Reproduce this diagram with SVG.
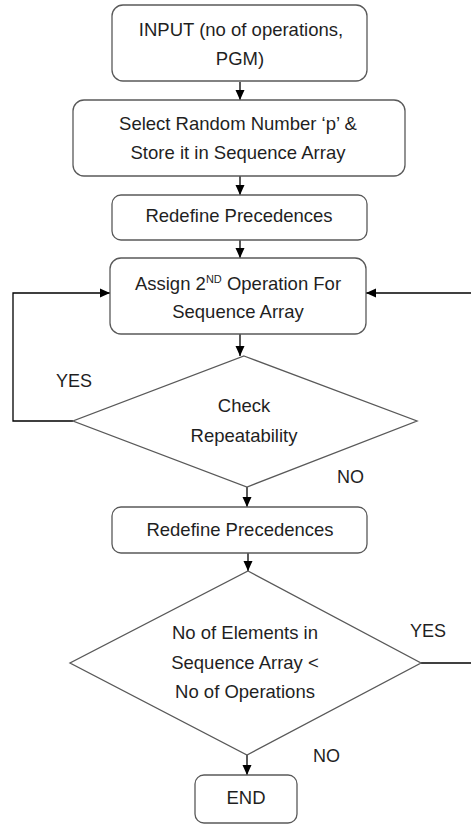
<svg xmlns="http://www.w3.org/2000/svg" width="471" height="824" viewBox="0 0 471 824">
  <style>
    .box { fill: #ffffff; stroke: #595959; stroke-width: 1.3; }
    .dec { fill: #ffffff; stroke: #595959; stroke-width: 1.3; }
    .lbl { font-family: "Liberation Sans", Arial, sans-serif; font-size: 18.5px; fill: #1f1f1f; text-anchor: middle; }
    .tag { font-family: "Liberation Sans", Arial, sans-serif; font-size: 18px; fill: #1f1f1f; }
    .sup { font-size: 11px; }
    .conn { fill: none; stroke: #000000; stroke-width: 1.3; }
  </style>
  <defs>
    <marker id="arrow" markerUnits="userSpaceOnUse" markerWidth="10" markerHeight="10" viewBox="0 0 10 10" refX="10" refY="5" orient="auto">
      <path d="M0,0.5 L10,5 L0,9.5 Z" fill="#000000"/>
    </marker>
  </defs>
  <rect width="471" height="824" fill="#ffffff"/>

  <!-- connectors -->
  <g id="connectors">
    <path class="conn" d="M240,82 V100" marker-end="url(#arrow)"/>
    <path class="conn" d="M240,176 V195" marker-end="url(#arrow)"/>
    <path class="conn" d="M240,240 V258" marker-end="url(#arrow)"/>
    <path class="conn" d="M240,334 V356" marker-end="url(#arrow)"/>
    <path class="conn" d="M73,421 H13 V293 H110" marker-end="url(#arrow)"/>
    <path class="conn" d="M471,293 H366" marker-end="url(#arrow)"/>
    <path class="conn" d="M247,487 V507" marker-end="url(#arrow)"/>
    <path class="conn" d="M248,553 V571" marker-end="url(#arrow)"/>
    <path class="conn" d="M421,663 H471"/>
    <path class="conn" d="M247,755 V775" marker-end="url(#arrow)"/>
    <text class="tag" x="56" y="387">YES</text>
    <text class="tag" x="337" y="483">NO</text>
    <text class="tag" x="410" y="637">YES</text>
    <text class="tag" x="313" y="762">NO</text>
  </g>

  <g id="input">
    <rect class="box" x="112" y="5" width="255" height="76" rx="11"/>
    <text class="lbl" x="241" y="36">INPUT (no of operations,</text>
    <text class="lbl" x="240" y="65">PGM)</text>
  </g>

  <g id="select-random">
    <rect class="box" x="73" y="100" width="332" height="76" rx="11"/>
    <text class="lbl" x="238" y="130">Select Random Number ‘p’ &amp;</text>
    <text class="lbl" x="238" y="159">Store it in Sequence Array</text>
  </g>

  <g id="redefine-1">
    <rect class="box" x="112" y="195" width="255" height="45" rx="9"/>
    <text class="lbl" x="239" y="222">Redefine Precedences</text>
  </g>

  <g id="assign-second">
    <rect class="box" x="110" y="258" width="256" height="76" rx="11"/>
    <text class="lbl" x="238" y="290">Assign 2<tspan class="sup" dy="-7">ND</tspan><tspan dy="7"> Operation For</tspan></text>
    <text class="lbl" x="238" y="318">Sequence Array</text>
  </g>

  <g id="check-repeat">
    <polygon class="dec" points="244,356 417,421 247,487 73,421"/>
    <text class="lbl" x="244" y="412">Check</text>
    <text class="lbl" x="244" y="442">Repeatability</text>
  </g>

  <g id="redefine-2">
    <rect class="box" x="112" y="507" width="255" height="46" rx="9"/>
    <text class="lbl" x="240" y="536">Redefine Precedences</text>
  </g>

  <g id="count-check">
    <polygon class="dec" points="248,571 421,663 247,755 70,663"/>
    <text class="lbl" x="245" y="639">No of Elements in</text>
    <text class="lbl" x="245" y="669">Sequence Array &lt;</text>
    <text class="lbl" x="245" y="698">No of Operations</text>
  </g>

  <g id="end">
    <rect class="box" x="195" y="775" width="102" height="48" rx="9"/>
    <text class="lbl" x="246" y="804">END</text>
  </g>
</svg>
